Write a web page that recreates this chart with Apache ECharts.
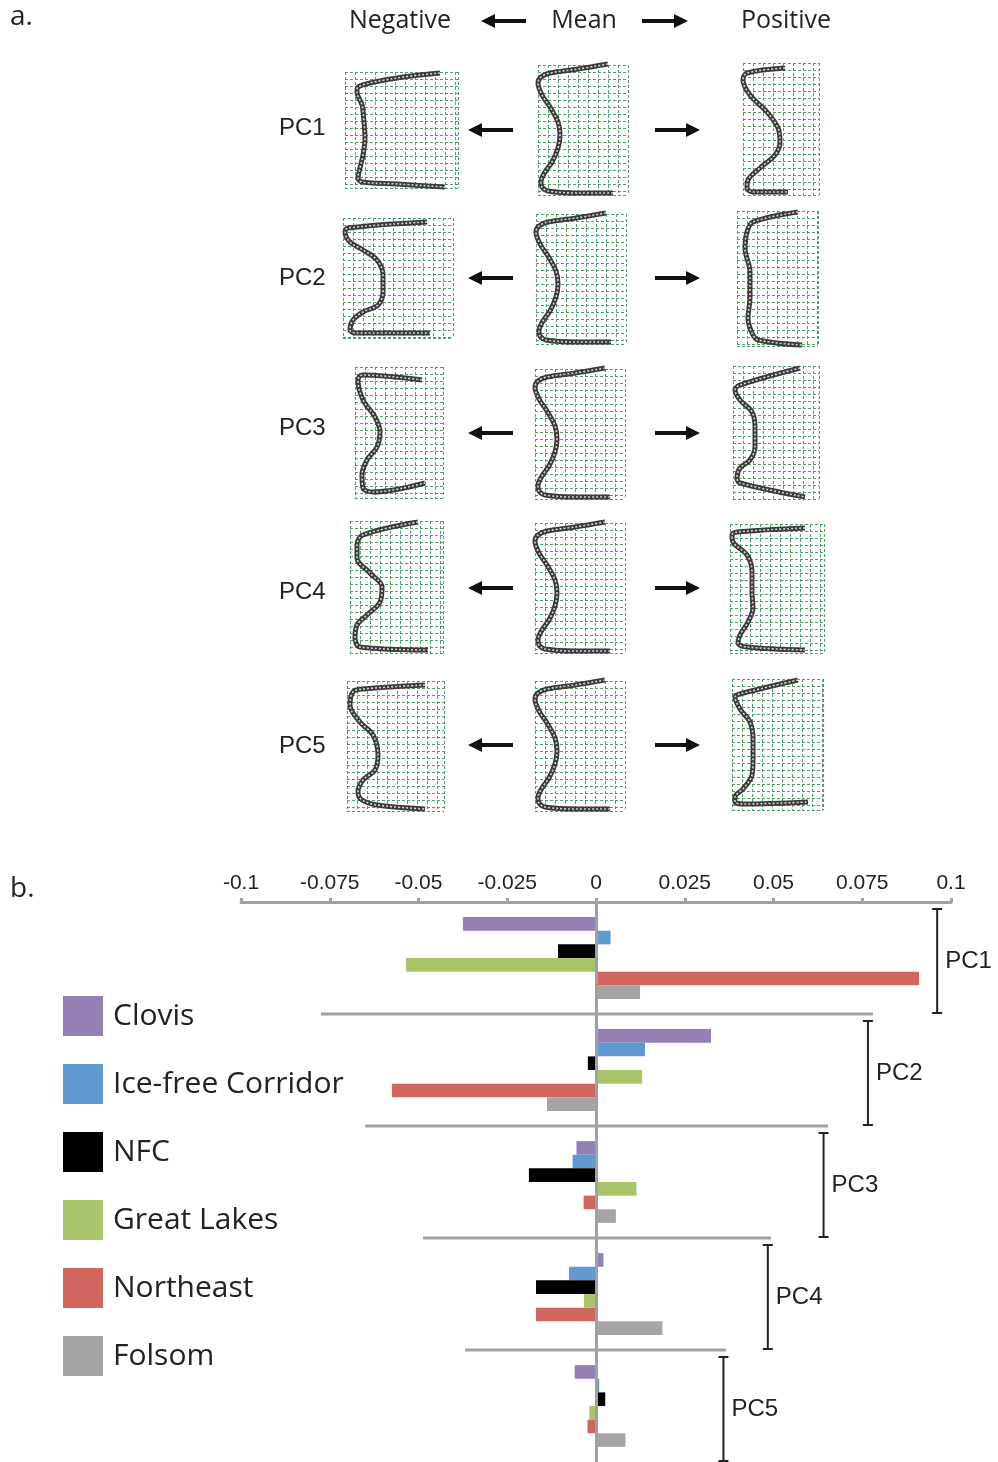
<!DOCTYPE html>
<html><head><meta charset="utf-8">
<script src="https://cdn.jsdelivr.net/npm/echarts@6/dist/echarts.min.js"></script>
<style>html,body{margin:0;padding:0;background:#fff}#c{width:998px;height:1462px}</style>
</head><body><div id="c"></div>
<script>
// ---------- DATA ----------
const categories = ['PC1', 'PC2', 'PC3', 'PC4', 'PC5'];
const groupNames = ['Clovis', 'Ice-free Corridor', 'NFC', 'Great Lakes', 'Northeast', 'Folsom'];
const clovis     = [-0.0375,  0.0324, -0.0055,  0.0021, -0.0060];
const iceFree    = [ 0.0041,  0.0138, -0.0066, -0.0076,  0.0009];
const nfc        = [-0.0107, -0.0023, -0.0189, -0.0169,  0.0026];
const greatLakes = [-0.0535,  0.0130,  0.0114, -0.0034, -0.0019];
const northeast  = [ 0.0910, -0.0575, -0.0035, -0.0169, -0.0024];
const folsom     = [ 0.0124, -0.0138,  0.0056,  0.0187,  0.0083];
const xTicks = { min: -0.1, max: 0.1, step: 0.025 };
// separator line extents (value units) below PC1..PC4, and bracket positions
const sepLeft  = [-0.0775, -0.065, -0.0487, -0.0369];
const sepRight = [ 0.078,   0.0654, 0.0493,  0.0366];
const bracketX = [ 0.0961,  0.0766, 0.0641,  0.0484,  0.0359];

// landmark outlines (local panel units)
const meanShape = [[70,-1],[40,4],[12,8],[3,12],[0,18],[4,30],[12,42],[20,57],[22,70],[20,83],[14,97],[7,107],[3,117],[4,122],[10,126],[40,128],[75,128]];
const negPC1 = [[95,1],[52,6],[13,15],[12,20],[17,33],[19,50],[20,66],[18,83],[15,96],[13,106],[17,110],[52,112],[100,115]];
const negPC2 = [[84,4],[5,10],[2,14],[7,24],[20,32],[34,42],[40,57],[40,74],[35,87],[20,94],[10,102],[7,112],[12,115],[87,115]];
const negPC3 = [[67,13],[7,8],[3,13],[8,33],[20,50],[25,65],[22,80],[12,93],[7,108],[8,121],[18,125],[70,116]];
const negPC4 = [[68,1],[13,14],[7,24],[7,37],[20,52],[32,66],[30,81],[17,94],[7,104],[5,117],[10,126],[78,129]];
const negPC5 = [[78,4],[16,8],[6,11],[3,24],[13,41],[26,54],[31,74],[28,89],[16,99],[11,111],[15,119],[30,124],[78,128]];
const posPC1 = [[42,5],[4,10],[0,17],[7,32],[24,49],[35,65],[37,79],[32,92],[17,105],[5,117],[4,125],[10,129],[45,129]];
const posPC2 = [[61,1],[16,11],[10,21],[8,37],[13,61],[13,87],[11,107],[15,122],[21,129],[65,134]];
const posPC3 = [[67,2],[7,19],[2,24],[7,34],[19,46],[22,61],[22,81],[17,94],[7,102],[4,112],[7,117],[72,131]];
const posPC4 = [[75,4],[7,8],[2,11],[3,18],[17,31],[22,48],[22,68],[23,84],[18,98],[10,111],[8,119],[17,123],[75,126]];
const posPC5 = [[66,1],[8,15],[3,18],[8,30],[18,43],[21,60],[21,80],[20,96],[11,110],[3,118],[3,123],[11,125],[76,123]];

// ---------- LAYOUT ----------
const colors = ['#9480B4', '#5E9ACF', '#000000', '#AAC46C', '#D1665F', '#A5A5A5'];
const negBoxes  = [[345,72,113,116],[343,218,110,120],[355,367,88,131],[350,521,93,132],[347,681,97,130]];
const meanBoxes = [[538,65,90,130],[536,214,90,130],[535,369,90,130],[535,523,90,130],[535,681,90,130]];
const posBoxes  = [[743,63,76,132],[737,211,81,135],[733,366,86,133],[730,524,94,129],[732,679,91,131]];
const rowY = [130, 278, 433, 588, 745];
const rowLabelY = [128, 278, 428, 592, 746];

const negShapes = [negPC1, negPC2, negPC3, negPC4, negPC5];
const posShapes = [posPC1, posPC2, posPC3, posPC4, posPC5];

const grids = [], xAxes = [], yAxes = [], series = [];
const gridColor = '#4f9f68';
function addPanel(box, shape) {
  const k = grids.length;
  grids.push({ left: box[0], top: box[1], width: box[2], height: box[3], outerBoundsMode: 'none' });
  const split = { show: true, lineStyle: { color: gridColor, type: [3, 2], width: 1, opacity: 1 } };
  xAxes.push({ gridIndex: k, type: 'value', min: 0, max: box[2], interval: 10,
    axisLine: { show: false }, axisTick: { show: false }, axisLabel: { show: false }, splitLine: split });
  yAxes.push({ gridIndex: k, type: 'value', min: 0, max: box[3], interval: 7, inverse: true,
    axisLine: { show: false }, axisTick: { show: false }, axisLabel: { show: false }, splitLine: split });
  series.push({ type: 'line', xAxisIndex: k, yAxisIndex: k, data: shape, symbol: 'none', smooth: 0.35, clip: false,
    silent: true, lineStyle: { color: '#3a3a3a', width: 5 }, z: 3 });
  series.push({ type: 'line', xAxisIndex: k, yAxisIndex: k, data: shape, symbol: 'none', smooth: 0.35, clip: false,
    silent: true, lineStyle: { color: '#d4d4d4', width: 1.6, type: [2, 2] }, z: 4 });
}
for (let r = 0; r < 5; r++) {
  addPanel(negBoxes[r], negShapes[r]);
  addPanel(meanBoxes[r], meanShape);
  addPanel(posBoxes[r], posShapes[r]);
}

// ---------- BAR CHART ----------
const barIdx = grids.length;
grids.push({ left: 241, right: 47, top: 902, bottom: 0, outerBoundsMode: 'none' });
xAxes.push({ gridIndex: barIdx, type: 'value', position: 'top', min: xTicks.min, max: xTicks.max, interval: xTicks.step,
  axisLine: { show: true, onZero: false, lineStyle: { color: '#a0a0a0', width: 3 } },
  axisTick: { show: true, length: 4, lineStyle: { color: '#a0a0a0', width: 3 } },
  axisLabel: { color: '#222', fontSize: 21, fontFamily: 'Liberation Sans', margin: 8,
    formatter: v => String(Math.round(v * 1000) / 1000) },
  splitLine: { show: false } });
yAxes.push({ gridIndex: barIdx, type: 'category', data: categories, inverse: true,
  axisLine: { show: false }, axisTick: { show: false }, axisLabel: { show: false }, splitLine: { show: false } });

const groupData = [clovis, iceFree, nfc, greatLakes, northeast, folsom];
groupNames.forEach((name, i) => {
  const s = { name, type: 'bar', xAxisIndex: barIdx, yAxisIndex: barIdx, data: groupData[i],
    barGap: '0%', barCategoryGap: '27%', itemStyle: { color: colors[i] }, z: 2 };
  if (i === 0) {
    s.markLine = { silent: true, symbol: 'none', label: { show: false },
      lineStyle: { color: '#a0a0a0', width: 3, type: 'solid' }, data: [{ xAxis: 0 }] };
  }
  series.push(s);
});

series.push({
  type: 'custom', xAxisIndex: barIdx, yAxisIndex: barIdx, clip: false, silent: true, z: 5,
  encode: { x: 0, y: 1 },
  data: categories.map((c, i) => [bracketX[i], c]),
  renderItem: function (params, api) {
    const i = params.dataIndex;
    const c = api.coord([api.value(0), i]);
    const band = api.size([0, 1])[1];
    const top = c[1] - band / 2, bot = c[1] + band / 2;
    const children = [];
    const bTop = top + 7, bBot = bot - 1;
    children.push({ type: 'line', shape: { x1: c[0], y1: bTop, x2: c[0], y2: bBot }, style: { stroke: '#222', lineWidth: 2 } });
    children.push({ type: 'line', shape: { x1: c[0] - 5, y1: bTop, x2: c[0] + 5, y2: bTop }, style: { stroke: '#222', lineWidth: 2 } });
    children.push({ type: 'line', shape: { x1: c[0] - 5, y1: bBot, x2: c[0] + 5, y2: bBot }, style: { stroke: '#222', lineWidth: 2 } });
    children.push({ type: 'text', x: c[0] + 8, y: (bTop + bBot) / 2,
      style: { text: categories[i], fill: '#222', fontSize: 24, fontFamily: 'Liberation Sans', align: 'left', verticalAlign: 'middle' } });
    if (i < sepLeft.length) {
      const l = api.coord([sepLeft[i], i])[0], r = api.coord([sepRight[i], i])[0];
      children.push({ type: 'line', shape: { x1: l, y1: bot, x2: r, y2: bot }, style: { stroke: '#a0a0a0', lineWidth: 3 } });
    }
    return { type: 'group', children };
  }
});

// ---------- DECORATION ----------
function arrow(tailX, headX, y) {
  const dir = headX < tailX ? -1 : 1, hl = 14, hw = 7;
  return [
    { type: 'line', shape: { x1: tailX, y1: y, x2: headX - dir * hl * 0.7, y2: y }, style: { stroke: '#111', lineWidth: 4 } },
    { type: 'polygon', shape: { points: [[headX, y], [headX - dir * hl, y - hw], [headX - dir * hl, y + hw]] }, style: { fill: '#111' } }
  ];
}
const graphics = [];
graphics.push({ type: 'text', left: 10, top: 3, style: { text: 'a.', fontSize: 28, fontFamily: 'Open Sans', fill: '#222' } });
graphics.push({ type: 'text', left: 10, top: 875, style: { text: 'b.', fontSize: 28, fontFamily: 'Open Sans', fill: '#222' } });
[['Negative', 400], ['Mean', 584], ['Positive', 786]].forEach(([t, x]) => {
  graphics.push({ type: 'text', x: x, y: 21, style: { text: t, fontSize: 25, fontFamily: 'Open Sans', fill: '#222', align: 'center', verticalAlign: 'middle' } });
});
arrow(526, 481, 21).forEach(g => graphics.push(g));
arrow(642, 688, 21).forEach(g => graphics.push(g));
for (let r = 0; r < 5; r++) {
  graphics.push({ type: 'text', x: 279, y: rowLabelY[r], style: { text: categories[r], fontSize: 24, fontFamily: 'Liberation Sans', fill: '#222', align: 'left', verticalAlign: 'middle' } });
  arrow(513, 468, rowY[r]).forEach(g => graphics.push(g));
  arrow(655, 700, rowY[r]).forEach(g => graphics.push(g));
}

const option = {
  animation: false,
  backgroundColor: '#fff',
  grid: grids, xAxis: xAxes, yAxis: yAxes, series,
  legend: {
    data: groupNames, orient: 'vertical', left: 63, top: 996, padding: 0, itemWidth: 40, itemHeight: 40, itemGap: 28,
    icon: 'rect', selectedMode: false,
    textStyle: { fontSize: 30, fontFamily: 'Open Sans', color: '#222', padding: [0, 0, 0, 5] }
  },
  graphic: { elements: graphics }
};
const chart = echarts.init(document.getElementById('c'), null, { renderer: 'canvas' });
chart.setOption(option);
</script></body></html>
